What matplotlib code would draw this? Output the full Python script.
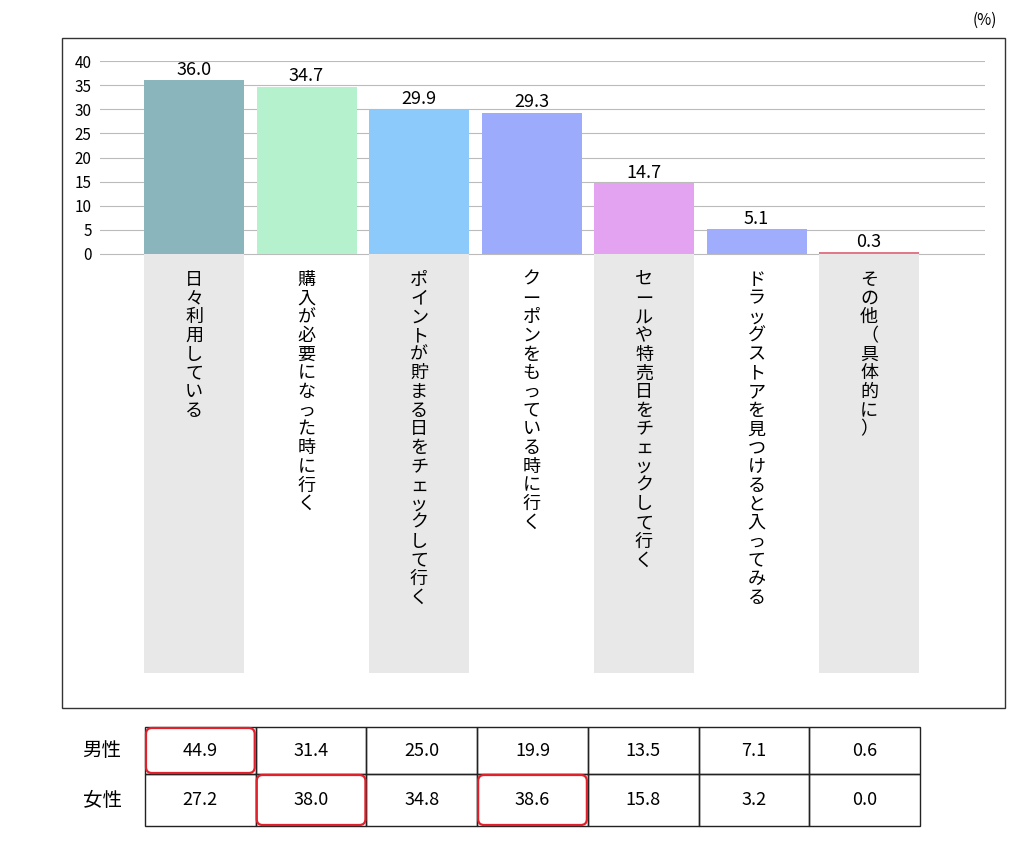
import matplotlib
matplotlib.use("Agg")
import matplotlib.pyplot as plt
from matplotlib.patches import Rectangle, FancyBboxPatch

plt.rcParams["font.family"] = ["Noto Sans CJK JP"]

categories = ["日々利用している", "購入が必要になった時に行く", "ポイントが貯まる日をチェックして行く",
              "クーポンをもっている時に行く", "セールや特売日をチェックして行く",
              "ドラッグストアを見つけると入ってみる", "その他（具体的に）"]
totals = [36.0, 34.7, 29.9, 29.3, 14.7, 5.1, 0.3]
male = [44.9, 31.4, 25.0, 19.9, 13.5, 7.1, 0.6]
female = [27.2, 38.0, 34.8, 38.6, 15.8, 3.2, 0.0]
colors = ["#8ab5bd", "#b5f1cc", "#8ccafc", "#9cabfc", "#e3a3f1", "#a0acfc", "#e07a8a"]
yticks = [0, 5, 10, 15, 20, 25, 30, 35, 40]

W, H = 1024, 843
fig = plt.figure(figsize=(W/100, H/100), dpi=100)

# overlay in pixel coordinates
ov = fig.add_axes([0, 0, 1, 1])
ov.set_xlim(0, W); ov.set_ylim(H, 0); ov.axis("off")
ov.add_patch(Rectangle((62, 38), 943, 670, fill=False, ec="#333333", lw=1))
ov.text(985, 20, "(%)", ha="center", va="center", fontsize=11)

# chart axes
top, bot, left, right = 61, 673, 100, 985
ax = fig.add_axes([left/W, 1-bot/H, (right-left)/W, (bot-top)/H])
ax.patch.set_alpha(0)
ymin = -(bot-254)/(254-61)*40
ax.set_ylim(ymin, 40)
x0 = (194-left)/112.5
ax.set_xlim(-x0, (right-194)/112.5)
for s in ax.spines.values(): s.set_visible(False)
ax.set_xticks([])
ax.set_yticks(yticks)
ax.tick_params(axis="y", length=0, labelsize=11, pad=6)
for t in yticks:
    ax.axhline(t, color="#bbbbbb", lw=0.8, zorder=0)
w = 100/112.5
for i, (c, v, col) in enumerate(zip(categories, totals, colors)):
    if i % 2 == 0:
        ax.add_patch(Rectangle((i-w/2, ymin), w, -ymin, color="#e8e8e8", zorder=1, lw=0))
    ax.bar(i, max(v, 0.5) if i == 6 else v, width=w, color=col, zorder=2)
    ax.text(i, v+0.3, f"{v:.1f}", ha="center", va="bottom", fontsize=13)
    ax.text(i, -3.5, "\n".join(c), ha="center", va="top", fontsize=13, linespacing=1.05)

# table
tx0, tx1 = 145, 920
cw = (tx1-tx0)/7
rows = [(727, 774, "男性", male), (774, 826, "女性", female)]
for y0, y1, lab, vals in rows:
    ov.text(102, (y0+y1)/2, lab, ha="center", va="center", fontsize=14)
    for j, v in enumerate(vals):
        ov.add_patch(Rectangle((tx0+j*cw, y0), cw, y1-y0, fill=False, ec="#222222", lw=1))
        ov.text(tx0+j*cw+cw/2, (y0+y1)/2, f"{v:.1f}", ha="center", va="center", fontsize=13)
for j in range(7):
    r = 0 if male[j] > female[j] else 1
    if j in (0, 1, 3):
        y0, y1 = rows[r][0], rows[r][1]
        ov.add_patch(FancyBboxPatch((tx0+j*cw+1, y0+1), cw-2, y1-y0-2,
                                    boxstyle="round,pad=0,rounding_size=6",
                                    fill=False, ec="#e0202a", lw=1.6))

fig.savefig("out.png", dpi=100)
